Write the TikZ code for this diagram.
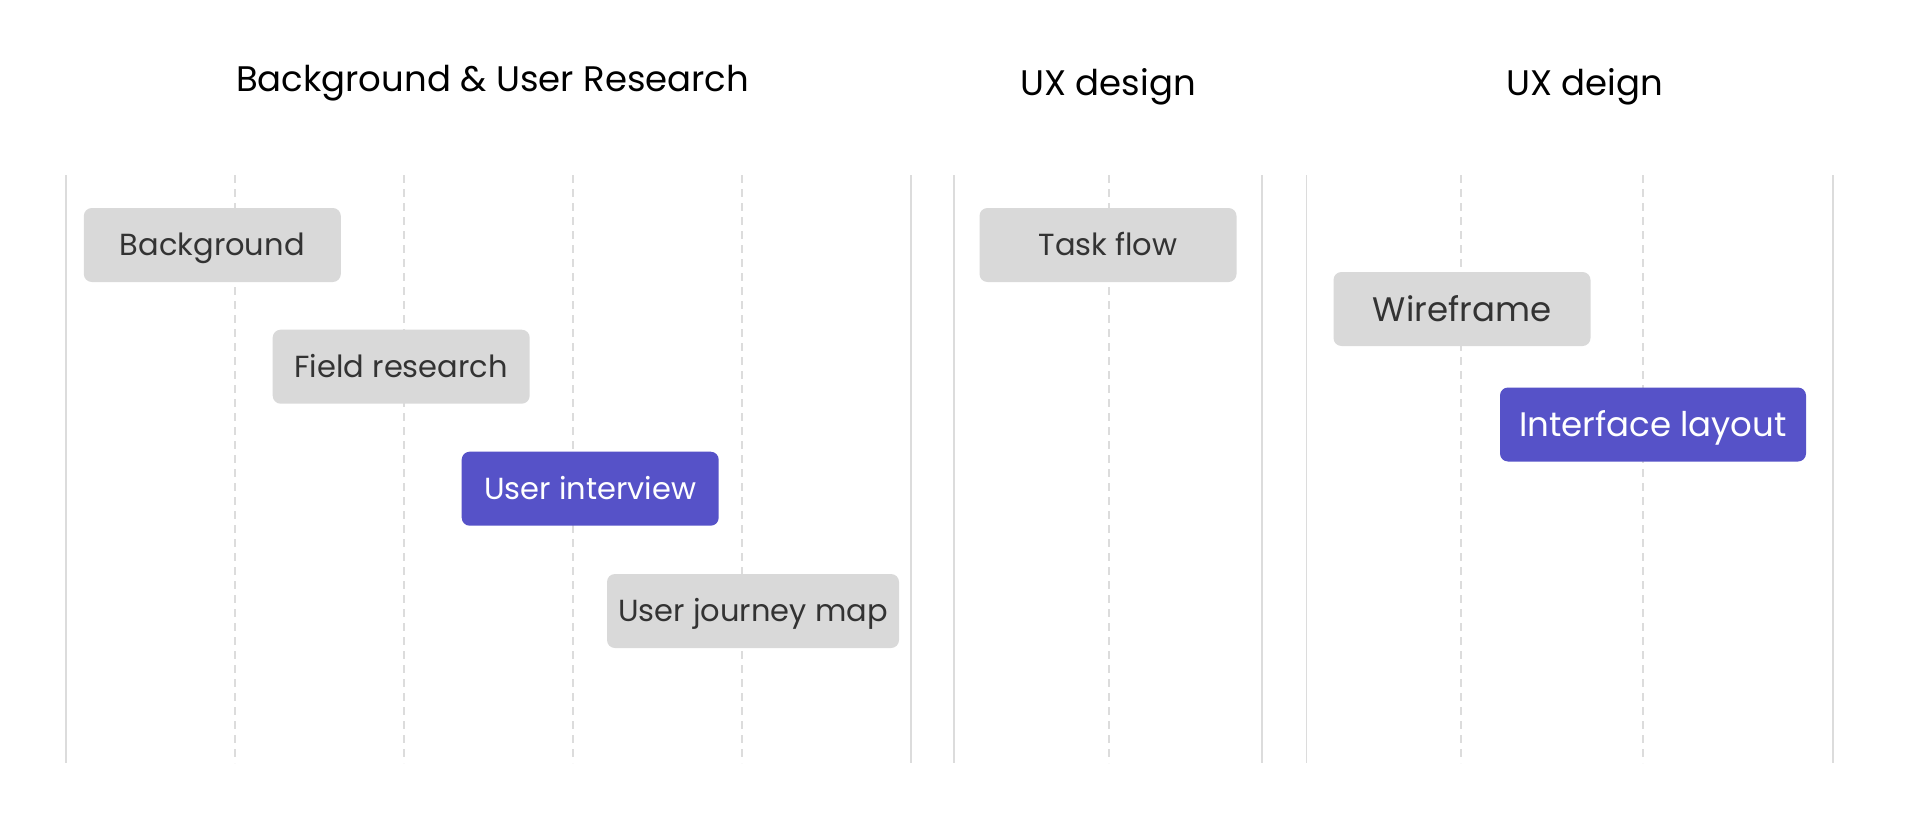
\documentclass[tikz,border=0pt]{standalone}
\usepackage{fontspec}
\setmainfont{Poppins}
\definecolor{boxgray}{HTML}{D9D9D9}
\definecolor{boxpurple}{HTML}{5652C8}
\definecolor{txtdark}{HTML}{333333}
\definecolor{linegray}{HTML}{DCDCDC}
\begin{document}
\begin{tikzpicture}[x=1pt,y=-1pt,
  gbox/.style={rectangle, rounded corners=8pt, fill=boxgray, text=txtdark, inner sep=0pt, minimum height=74pt, minimum width=257pt, text height=21.5pt, text depth=0pt, font=\fontsize{30.5}{34}\selectfont},
  pbox/.style={gbox, fill=boxpurple, text=white},
  bigtxt/.style={text height=24pt, font=\fontsize{34}{38}\selectfont},
  title/.style={anchor=base, text=black, inner sep=0pt, font=\fontsize{35.5}{40}\selectfont},
  solidline/.style={draw=linegray, line width=1.5pt},
  dashline/.style={draw=linegray, line width=1.5pt, dash pattern=on 8pt off 6pt}
]
\useasboundingbox (0,0) rectangle (1920,816);
\fill[white] (0,0) rectangle (1920,816);
% vertical lines
\foreach \x in {66,911,954,1262,1306.5,1833}
  \draw[solidline] (\x,175) -- (\x,763);
\foreach \x in {235,404,573,742,1109,1461,1643}
  \draw[dashline] (\x,175) -- (\x,763);
% titles
\node[title] (t1) at (492.6,91.7) {Background \& User Research};
\node[title] (t2) at (1108,95.7) {UX design};
\node[title] (t3) at (1584.7,95.7) {UX deign};
% boxes
\node[gbox] (bg) at (212.3,245) {Background};
\node[gbox] (fr) at (401.2,366.7) {Field research};
\node[pbox] (ui) at (590.2,488.7) {User interview};
\node[gbox, minimum width=292pt] (ujm) at (753,611) {User journey map};
\node[gbox] (tf) at (1108,245) {Task flow};
\node[gbox, bigtxt] (wf) at (1462,309) {Wireframe};
\node[pbox, bigtxt, minimum width=306pt] (il) at (1653,424.5) {Interface layout};
\end{tikzpicture}
\end{document}
